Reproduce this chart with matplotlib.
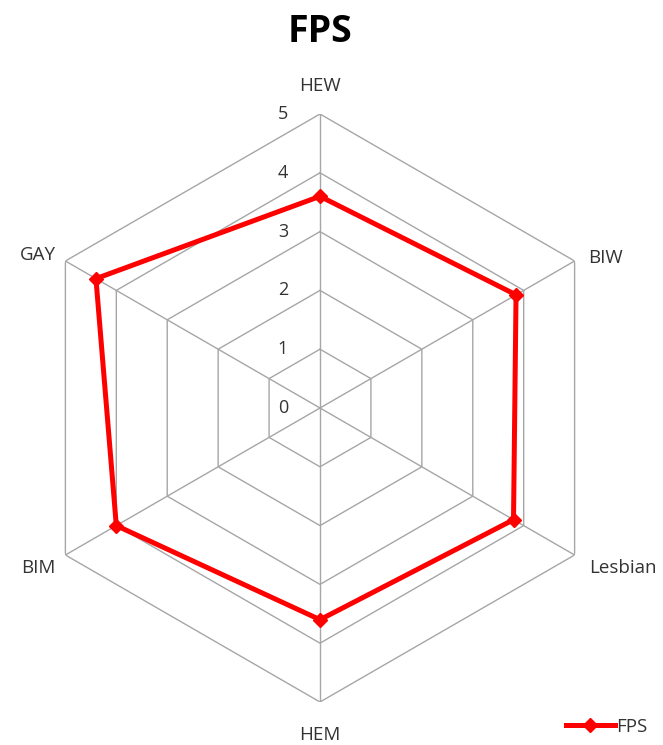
import numpy as np
import matplotlib
matplotlib.use("Agg")
import matplotlib.pyplot as plt

categories = ["HEW", "BIW", "Lesbian", "HEM", "BIM", "GAY"]
fps_values = [3.6, 3.85, 3.8, 3.6, 4.0, 4.4]
tick_values = [0, 1, 2, 3, 4, 5]
series_name = "FPS"

plt.rcParams['font.family'] = ['Open Sans', 'DejaVu Sans']

W, H = 663, 745
fig = plt.figure(figsize=(W / 100, H / 100), dpi=100)
cx, cy, R = 320, 408, 294
ax = fig.add_axes([(cx - R) / W, (H - cy - R) / H, 2 * R / W, 2 * R / H], polar=True)
ax.set_theta_offset(np.pi / 2)
ax.set_theta_direction(-1)
ax.set_ylim(0, 5)
ax.grid(False)
ax.set_xticks([])
ax.set_yticks([])
ax.spines['polar'].set_visible(False)
ax.patch.set_alpha(0)

n = len(categories)
angles = np.arange(n) * 2 * np.pi / n
closed = np.append(angles, angles[0])

grid_color = "#A6A6A6"
for t in tick_values[1:]:
    ax.plot(closed, [t] * (n + 1), color=grid_color, lw=1.0, zorder=1)
for a in angles:
    ax.plot([a, a], [0, tick_values[-1]], color=grid_color, lw=1.0, zorder=1)

vals = np.append(fps_values, fps_values[0])
ax.plot(closed, vals, color="#FF0000", lw=3.6, marker="D", markersize=7,
        markevery=list(range(n)), zorder=3, label=series_name, solid_joinstyle='miter')

text_color = "#333333"
# tick labels
for t in tick_values:
    ax.annotate(str(t), xy=(0, t), xytext=(-37, 0), textcoords='offset pixels',
                ha='center', va='center', fontsize=13, color=text_color)

# category labels
offsets = [(0, 28, 'center', 'center'), (14, 3, 'left', 'center'),
           (15, -13, 'left', 'center'), (0, -33, 'center', 'center'),
           (-10, -13, 'right', 'center'), (-10, 6, 'right', 'center')]
for a, c, (dx, dy, ha, va) in zip(angles, categories, offsets):
    ax.annotate(c, xy=(a, 5), xytext=(dx, dy), textcoords='offset pixels',
                ha=ha, va=va, fontsize=13.5, color=text_color)

fig.text(cx / W, 1 - 32 / H, "FPS", ha='center', va='center', fontsize=27,
         fontweight='bold', color="#000000")

leg = fig.legend(loc='center left', bbox_to_anchor=(566 / W, 1 - 727 / H),
                 frameon=False, fontsize=13.5, handlelength=2.6, handletextpad=0.1,
                 borderaxespad=0, borderpad=0)
for txt in leg.get_texts():
    txt.set_color(text_color)

fig.savefig("out.png", dpi=100)
